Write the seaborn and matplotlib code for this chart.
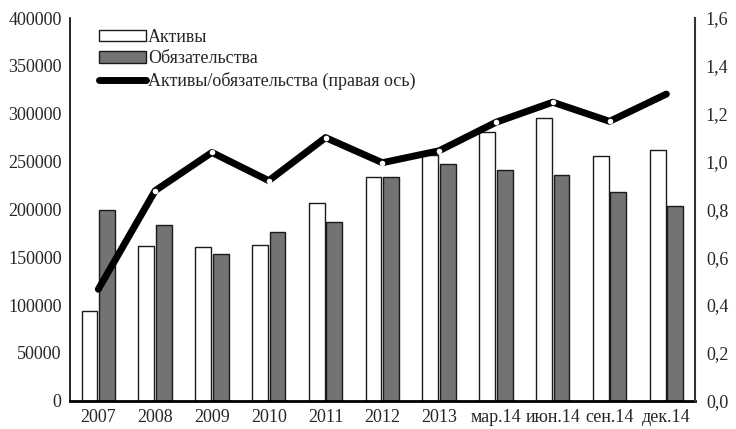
import numpy as np
import pandas as pd
import matplotlib
matplotlib.use('Agg')
import matplotlib.pyplot as plt
import seaborn as sns
from matplotlib.ticker import FixedLocator, FuncFormatter

# Data
periods = ['2007', '2008', '2009', '2010', '2011', '2012', '2013',
           'мар.14', 'июн.14', 'сен.14', 'дек.14']
assets = [94000, 162000, 160300, 162700, 207000, 233500, 256800,
          281200, 295800, 256100, 262300]
liabilities = [199300, 183600, 153300, 176300, 187100, 234100, 247700,
               240800, 236200, 217800, 203800]
ratio = [0.466, 0.878, 1.038, 0.920, 1.100, 0.995, 1.045,
         1.164, 1.248, 1.168, 1.282]

series_names = ['Активы', 'Обязательства']
line_name = 'Активы/обязательства (правая ось)'

df = pd.DataFrame({
    'period': periods * 2,
    'value': assets + liabilities,
    'series': [series_names[0]] * len(periods) + [series_names[1]] * len(periods),
})

sns.set_style('white')
plt.rcParams['font.family'] = ['Liberation Serif', 'DejaVu Serif']
plt.rcParams['font.size'] = 13

fig = plt.figure(figsize=(7.36, 4.29), dpi=100)
ax = fig.add_axes([0.095, 0.066, 0.849, 0.892])

sns.barplot(data=df, x='period', y='value', hue='series', order=periods,
            hue_order=series_names, palette=['white', '#737373'],
            edgecolor='#1a1a1a', linewidth=1.0, width=0.62, gap=0.1,
            saturation=1, ax=ax)

ax.set_ylim(0, 400000)
ax.set_xlim(-0.5, len(periods) - 0.5)
ax.set_yticks(np.arange(0, 400001, 50000))
ax.set_yticklabels([f'{v:d}' for v in range(0, 400001, 50000)])
ax.set_xlabel('')
ax.set_ylabel('')
for s in ['top', 'right']:
    ax.spines[s].set_visible(False)
ax.spines['left'].set_color('black')
ax.spines['bottom'].set_color('black')
ax.spines['bottom'].set_linewidth(2.0)
ax.spines['left'].set_linewidth(1.2)
ax.tick_params(axis='y', length=0, pad=6, labelsize=13)
ax.tick_params(axis='x', which='major', length=0, pad=6, labelsize=13)
ax.xaxis.set_minor_locator(FixedLocator(np.arange(-0.5, len(periods), 1.0)))
ax.tick_params(axis='x', which='minor', length=5, width=1.2, color='black', direction='out')

ax2 = ax.twinx()
sns.lineplot(x=np.arange(len(periods)), y=ratio, ax=ax2, color='black',
             linewidth=5, solid_capstyle='round', solid_joinstyle='round',
             label=line_name, legend=False)
ax2.plot(np.arange(len(periods)), ratio, linestyle='none', marker='o',
         markersize=4, markerfacecolor='white', markeredgewidth=0,
         markevery=list(range(1, len(periods) - 1)))
ax2.set_ylim(0, 1.6)
ax2.set_yticks(np.arange(0, 1.61, 0.2))
ax2.yaxis.set_major_formatter(FuncFormatter(lambda v, p: f'{v:.1f}'.replace('.', ',')))
ax2.tick_params(axis='y', length=0, pad=8, labelsize=13)
ax2.set_ylabel('')
for s in ['top', 'left', 'bottom']:
    ax2.spines[s].set_visible(False)
ax2.spines['right'].set_color('#333333')
ax2.spines['right'].set_linewidth(1.5)

# Combined legend
h1, l1 = ax.get_legend_handles_labels()
h2, l2 = ax2.get_legend_handles_labels()
ax.get_legend().remove()
leg = ax2.legend(h1 + h2[:1], l1 + l2[:1], loc='upper left',
                 bbox_to_anchor=(0.03, 1.0), frameon=False, fontsize=13,
                 handlelength=2.6, handleheight=0.6, handletextpad=0.1,
                 labelspacing=0.25, borderaxespad=0.2)

plt.savefig('out.png', dpi=100)
